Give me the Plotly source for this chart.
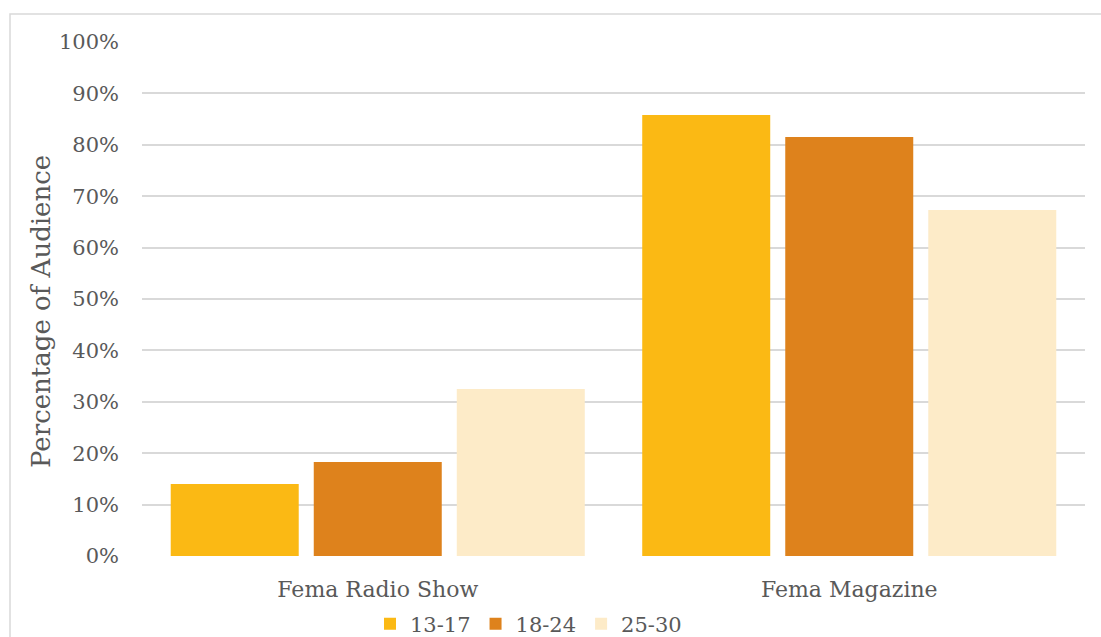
import plotly.graph_objects as go

categories = ["Fema Radio Show", "Fema Magazine"]
series_names = ["13-17", "18-24", "25-30"]
values_13_17 = [0.14, 0.858]
values_18_24 = [0.183, 0.815]
values_25_30 = [0.325, 0.673]
colors = ["#FBB914", "#DE821C", "#FDEBC8"]
tick_vals = [0, 0.1, 0.2, 0.3, 0.4, 0.5, 0.6, 0.7, 0.8, 0.9, 1.0]
tick_text = ["0%", "10%", "20%", "30%", "40%", "50%", "60%", "70%", "80%", "90%", "100%"]
y_title = "Percentage of Audience"

font_family = "DejaVu Serif"
text_color = "#595959"
grid_color = "#D9D9D9"

fig = go.Figure()
for name, vals, col in zip(series_names, [values_13_17, values_18_24, values_25_30], colors):
    fig.add_trace(go.Bar(x=categories, y=vals, name=name, marker=dict(color=col, line=dict(width=0))))

W, H = 1101, 637
ml, mr, mt, mb = 142, 16, 42, 81
pw, ph = W - ml - mr, H - mt - mb

def px_x(p):
    return (p - ml) / pw

def px_y(p):
    return (H - mb - p) / ph

fig.update_layout(
    width=W, height=H,
    margin=dict(l=ml, r=mr, t=mt, b=mb, autoexpand=False),
    paper_bgcolor="white", plot_bgcolor="white",
    barmode="group", bargap=0.09, bargroupgap=0.105,
    font=dict(family=font_family, color=text_color, size=21),
    showlegend=True,
    legend=dict(orientation="h", x=px_x(370), y=px_y(624), xanchor="left", yanchor="middle",
                font=dict(size=21, color=text_color), itemwidth=30, tracegroupgap=0,
                bgcolor="rgba(0,0,0,0)"),
    shapes=[dict(type="rect", xref="paper", yref="paper",
                 x0=px_x(10), x1=px_x(1200), y0=px_y(700), y1=px_y(14),
                 line=dict(color=grid_color, width=1.5), layer="below")],
    annotations=[dict(text=y_title, textangle=-90, xref="paper", yref="paper",
                      x=px_x(41), y=px_y(312), xanchor="center", yanchor="middle",
                      showarrow=False, font=dict(size=26, color=text_color))],
)
fig.update_yaxes(range=[0, 1.0], tickvals=tick_vals, ticktext=tick_text,
                 showgrid=True, gridcolor=grid_color, gridwidth=1.5,
                 zeroline=False, showline=False, ticks="", ticklabelstandoff=22,
                 tickfont=dict(size=21, color=text_color))
fig.update_xaxes(showgrid=False, showline=False, ticks="", ticklabelstandoff=18,
                 tickfont=dict(size=22, color=text_color))

fig.write_html("out.html")
